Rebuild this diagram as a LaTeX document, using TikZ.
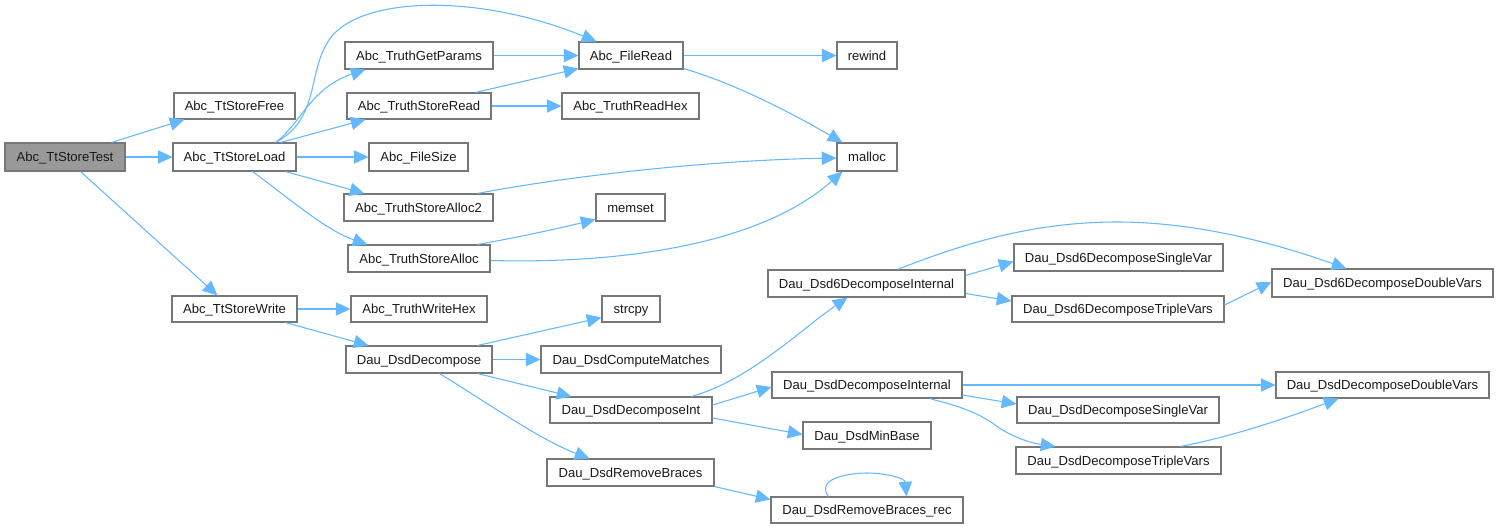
\documentclass[tikz,border=0pt]{standalone}
\usepackage{fontspec}
\setmainfont{Liberation Sans}
\usetikzlibrary{arrows.meta,calc}
\definecolor{edgec}{HTML}{63B8FF}
\definecolor{boxc}{HTML}{777777}
\definecolor{rootc}{HTML}{999999}
\definecolor{txtc}{HTML}{1A1A1A}
\tikzset{
  box/.style={draw=boxc, line width=0.8pt, fill=white, inner sep=0pt, text=txtc,
    text height=7pt, text depth=0pt,
    font=\fontsize{9.8}{11.6}\selectfont},
  rootbox/.style={box, fill=rootc},
  edge/.style={draw=edgec, line width=0.8pt, -{Triangle[length=11pt,width=10pt]}}
}
\newcommand{\bx}[7][box]{%
  \node[#1, minimum width={(#5-#3)*0.75pt}, minimum height={(#6-#4)*0.75pt}]
    (#2) at ({(#3+#5)/2},{(#4+#6)/2}) {#7};}
\begin{document}
\begin{tikzpicture}[x=0.75pt, y=-0.75pt]
\useasboundingbox (0,0) rectangle (1498,529);
% nodes
\bx[rootbox]{test}{5}{143}{125}{171}{Abc\_TtStoreTest}
\bx{free}{174}{93}{295}{119}{Abc\_TtStoreFree}
\bx{load}{173}{143}{296}{171}{Abc\_TtStoreLoad}
\bx{getp}{345}{42}{493}{69}{Abc\_TruthGetParams}
\bx{sread}{347}{93}{491}{119}{Abc\_TruthStoreRead}
\bx{fsize}{369}{143}{468}{171}{Abc\_FileSize}
\bx{alloc2}{344}{194}{493}{221}{Abc\_TruthStoreAlloc2}
\bx{alloc}{348}{245}{490}{272}{Abc\_TruthStoreAlloc}
\bx{fread}{579}{42}{683}{69}{Abc\_FileRead}
\bx{rewind}{837}{42}{897}{69}{rewind}
\bx{rhex}{562}{93}{699}{119}{Abc\_TruthReadHex}
\bx{malloc}{837}{143}{897}{171}{malloc}
\bx{memset}{596}{194}{665}{221}{memset}
\bx{write}{172}{296}{297}{322}{Abc\_TtStoreWrite}
\bx{whex}{351}{296}{487}{322}{Abc\_TruthWriteHex}
\bx{dsd}{346}{346}{492}{373}{Dau\_DsdDecompose}
\bx{dsixint}{768}{270}{965}{297}{Dau\_Dsd6DecomposeInternal}
\bx{strcpy}{602}{296}{660}{322}{strcpy}
\bx{cmatch}{541}{346}{721}{373}{Dau\_DsdComputeMatches}
\bx{dint}{772}{372}{962}{398}{Dau\_DsdDecomposeInternal}
\bx{dsdint}{550}{397}{712}{423}{Dau\_DsdDecomposeInt}
\bx{minbase}{803}{422}{931}{449}{Dau\_DsdMinBase}
\bx{rbr}{547}{459}{714}{486}{Dau\_DsdRemoveBraces}
\bx{rbrrec}{771}{497}{963}{523}{Dau\_DsdRemoveBraces\_rec}
\bx{dsixsingle}{1014}{244}{1223}{271}{Dau\_Dsd6DecomposeSingleVar}
\bx{dsixdouble}{1272}{269}{1493}{297}{Dau\_Dsd6DecomposeDoubleVars}
\bx{dsixtriple}{1012}{296}{1224}{322}{Dau\_Dsd6DecomposeTripleVars}
\bx{ddouble}{1276}{372}{1489}{398}{Dau\_DsdDecomposeDoubleVars}
\bx{dsingle}{1017}{397}{1219}{423}{Dau\_DsdDecomposeSingleVar}
\bx{dtriple}{1016}{447}{1221}{474}{Dau\_DsdDecomposeTripleVars}
% edges
\draw[edge] ($(test.north west)+(107,0)$) -- ($(free.south west)+(11,0)$);
\draw[edge] (test.east) -- (load.west);
\draw[edge] ($(test.south west)+(76,0)$) -- ($(write.north west)+(46,0)$);
\draw[edge] ($(load.north west)+(103,0)$) .. controls (300,125) and (310,88) .. ($(getp.south west)+(21,0)$);
\draw[edge] ($(load.north west)+(103,0)$) .. controls (322,118) and (306,68) .. (332,36)
   .. controls (366,-4) and (480,-6) .. ($(fread.north west)+(18,0)$);
\draw[edge] ($(load.north west)+(108,0)$) -- ($(sread.south west)+(19,0)$);
\draw[edge] (load.east) -- (fsize.west);
\draw[edge] ($(load.south west)+(113,0)$) -- ($(alloc2.north west)+(21,0)$);
\draw[edge] ($(load.south west)+(80,0)$) .. controls (285,195) and (325,230) .. ($(alloc.north west)+(20,0)$);
\draw[edge] (getp.east) -- (fread.west);
\draw[edge] ($(sread.north west)+(129,0)$) -- ($(fread.south west)+(0,-1)$);
\draw[edge] (sread.east) -- (rhex.west);
\draw[edge] (fread.east) -- (rewind.west);
\draw[edge] ($(fread.south east)+(0,-1)$) .. controls (740,85) and (800,118) .. ($(malloc.north west)+(6,0)$);
\draw[edge] ($(alloc2.north west)+(134,0)$) .. controls (580,174) and (720,160) .. ($(malloc.west)+(0,1)$);
\draw[edge] ($(alloc.north west)+(130,0)$) .. controls (520,237) and (560,228) .. ($(memset.south west)+(0,-2)$);
\draw[edge] ($(alloc.east)+(0,2)$) .. controls (620,264) and (760,245) .. ($(malloc.south west)+(6,0)$);
\draw[edge] (write.east) -- (whex.west);
\draw[edge] ($(write.south west)+(114,0)$) -- ($(dsd.north west)+(23,0)$);
\draw[edge] ($(dsd.north west)+(132,0)$) -- ($(strcpy.south west)+(0,-5)$);
\draw[edge] (dsd.east) -- (cmatch.west);
\draw[edge] ($(dsd.south west)+(132,0)$) -- ($(dsdint.north west)+(22,0)$);
\draw[edge] ($(dsd.south west)+(94,0)$) .. controls (480,398) and (540,440) .. ($(rbr.north west)+(43,0)$);
\draw[edge] ($(dsdint.north west)+(142,0)$) .. controls (750,380) and (800,330) .. ($(dsixint.south west)+(80,0)$);
\draw[edge] ($(dsdint.east)+(0,-5)$) -- ($(dint.west)+(0,2)$);
\draw[edge] ($(dsdint.east)+(0,8)$) -- ($(minbase.west)+(0,-1)$);
\draw[edge] ($(rbr.south east)+(0,0)$) -- ($(rbrrec.north west)+(0,3)$);
\draw[edge] ($(rbrrec.north west)+(58,0)$) .. controls (815,478) and (850,473) .. (867,473)
   .. controls (885,473) and (905,478) .. ($(rbrrec.north west)+(136,0)$);
\draw[edge] ($(dsixint.east)+(0,-8)$) -- ($(dsixsingle.west)+(0,4)$);
\draw[edge] ($(dsixint.east)+(0,10)$) -- ($(dsixtriple.west)+(0,-8)$);
\draw[edge] ($(dsixint.north west)+(130,0)$) .. controls (960,245) and (1030,222) .. (1117,222)
   .. controls (1200,222) and (1280,245) .. ($(dsixdouble.north west)+(75,0)$);
\draw[edge] ($(dsixtriple.east)+(0,-4)$) -- ($(dsixdouble.west)+(0,-1)$);
\draw[edge] ($(dint.east)+(0,0)$) -- ($(ddouble.west)+(0,0)$);
\draw[edge] ($(dint.east)+(0,10)$) -- ($(dsingle.west)+(0,-6)$);
\draw[edge] ($(dint.south west)+(158,0)$) .. controls (950,404) and (975,410) .. (995,425)
   .. controls (1010,436) and (1030,443) .. ($(dtriple.north west)+(40,0)$);
\draw[edge] ($(dtriple.north west)+(165,0)$) .. controls (1240,435) and (1300,413) .. ($(ddouble.south west)+(63,0)$);
\end{tikzpicture}
\end{document}
